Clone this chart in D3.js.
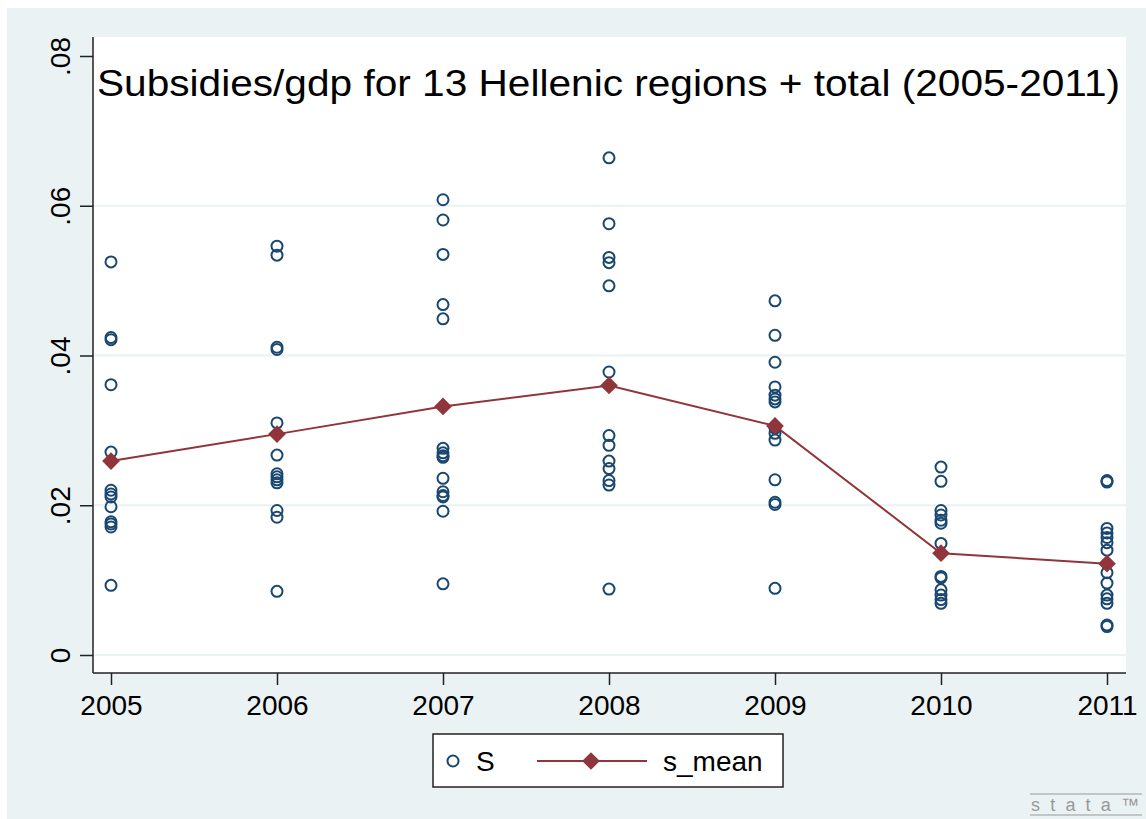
<!DOCTYPE html>
<html>
<head>
<meta charset="utf-8">
<script src="https://cdn.jsdelivr.net/npm/d3@7"></script>
<style>
  body { margin: 0; background: #fff; }
  text { font-family: "Liberation Sans", Arial, sans-serif; }
</style>
</head>
<body>
<script>
// Years on the x axis
const years = [2005, 2006, 2007, 2008, 2009, 2010, 2011];

// S values per year (13 regions + total)
const s2005 = [0.0525, 0.0424, 0.0421, 0.0361, 0.0271, 0.0220, 0.0215, 0.0211, 0.0198, 0.0178, 0.0175, 0.0171, 0.0093];
const s2006 = [0.0546, 0.0534, 0.0411, 0.0408, 0.0310, 0.0267, 0.0242, 0.0238, 0.0234, 0.0230, 0.0193, 0.0184, 0.0085];
const s2007 = [0.0608, 0.0581, 0.0535, 0.0468, 0.0449, 0.0276, 0.0270, 0.0266, 0.0264, 0.0236, 0.0218, 0.0213, 0.0211, 0.0192, 0.0095];
const s2008 = [0.0664, 0.0576, 0.0531, 0.0524, 0.0493, 0.0378, 0.0293, 0.0280, 0.0259, 0.0249, 0.0233, 0.0227, 0.0088];
const s2009 = [0.0473, 0.0427, 0.0391, 0.0358, 0.0347, 0.0342, 0.0338, 0.0303, 0.0296, 0.0287, 0.0234, 0.0204, 0.0201, 0.0089];
const s2010 = [0.0251, 0.0232, 0.0193, 0.0187, 0.0180, 0.0176, 0.0149, 0.0105, 0.0103, 0.0087, 0.0080, 0.0074, 0.0069];
const s2011 = [0.0233, 0.0231, 0.0169, 0.0163, 0.0157, 0.0150, 0.0140, 0.0110, 0.0096, 0.0080, 0.0075, 0.0069, 0.0040, 0.0038];

// s_mean per year
const sMean = [0.0259, 0.0295, 0.0332, 0.0360, 0.0306, 0.0136, 0.0122];

const yTicks = [0, 0.02, 0.04, 0.06, 0.08];
const gridTicks = [0, 0.02, 0.04, 0.06];

const sByYear = [s2005, s2006, s2007, s2008, s2009, s2010, s2011];
const points = [];
sByYear.forEach((vals, i) => vals.forEach(v => points.push({ x: years[i], y: v })));
const meanData = years.map((yr, i) => ({ x: yr, y: sMean[i] }));

const width = 1146;
const height = 819;
const plot = { left: 93, right: 1126, top: 37, bottom: 673 };

const navy = "#1a476f";
const maroon = "#90353b";
const bgColor = "#eaf2f3";
const labelSize = 28;

const svg = d3.select("body")
    .append("svg")
    .attr("width", width)
    .attr("height", height);

// Outer graph region
svg.append("rect")
    .attr("x", 7).attr("y", 8)
    .attr("width", width - 7).attr("height", height - 8)
    .attr("fill", bgColor);

// Plot region
svg.append("rect")
    .attr("x", plot.left).attr("y", plot.top)
    .attr("width", plot.right - plot.left).attr("height", plot.bottom - plot.top)
    .attr("fill", "#fff");

const xScale = d3.scaleLinear()
    .domain([2005, 2011])
    .range([111, 1107]);

const yScale = d3.scaleLinear()
    .domain([0, 0.08])
    .range([655, 56]);

// Gridlines
svg.append("g")
    .selectAll("line")
    .data(gridTicks)
    .enter()
    .append("line")
    .attr("x1", plot.left)
    .attr("x2", plot.right)
    .attr("y1", d => yScale(d))
    .attr("y2", d => yScale(d))
    .attr("stroke", bgColor)
    .attr("stroke-width", 2);

// Title
svg.append("text")
    .attr("x", 97)
    .attr("y", 96)
    .attr("font-size", 37)
    .attr("textLength", 1023)
    .attr("lengthAdjust", "spacingAndGlyphs")
    .attr("fill", "#000")
    .text("Subsidies/gdp for 13 Hellenic regions + total (2005-2011)");

// Y axis
const yAxis = d3.axisLeft(yScale)
    .tickValues(yTicks)
    .tickSize(13)
    .tickSizeOuter(0)
    .tickFormat(d => d === 0 ? "0" : d3.format(".2f")(d).replace(/^0/, ""));

const yAxisGroup = svg.append("g")
    .attr("transform", `translate(${plot.left},0)`)
    .call(yAxis);
yAxisGroup.select(".domain").remove();
yAxisGroup.selectAll("line").attr("stroke", "#222").attr("stroke-width", 1.5);
yAxisGroup.selectAll("text")
    .attr("x", 0).attr("y", 0).attr("dy", 0)
    .attr("transform", "translate(-23,0) rotate(-90)")
    .attr("text-anchor", "middle")
    .attr("font-size", labelSize)
    .attr("font-family", "Liberation Sans, Arial, sans-serif")
    .attr("fill", "#000");

// X axis
const xAxis = d3.axisBottom(xScale)
    .tickValues(years)
    .tickSize(12)
    .tickSizeOuter(0)
    .tickFormat(d3.format("d"));

const xAxisGroup = svg.append("g")
    .attr("transform", `translate(0,${plot.bottom})`)
    .call(xAxis);
xAxisGroup.select(".domain").remove();
xAxisGroup.selectAll("line").attr("stroke", "#222").attr("stroke-width", 1.5);
xAxisGroup.selectAll("text")
    .attr("y", 42).attr("dy", 0)
    .attr("font-size", labelSize)
    .attr("font-family", "Liberation Sans, Arial, sans-serif")
    .attr("fill", "#000");

// Axis lines
svg.append("line")
    .attr("x1", plot.left).attr("x2", plot.left)
    .attr("y1", plot.top).attr("y2", plot.bottom)
    .attr("stroke", "#222").attr("stroke-width", 1.5);
svg.append("line")
    .attr("x1", plot.left).attr("x2", plot.right)
    .attr("y1", plot.bottom).attr("y2", plot.bottom)
    .attr("stroke", "#222").attr("stroke-width", 1.5);

// S scatter
svg.append("g")
    .selectAll("circle")
    .data(points)
    .enter()
    .append("circle")
    .attr("cx", d => xScale(d.x))
    .attr("cy", d => yScale(d.y))
    .attr("r", 5.5)
    .attr("fill", "none")
    .attr("stroke", navy)
    .attr("stroke-width", 2);

// s_mean line
const line = d3.line()
    .x(d => xScale(d.x))
    .y(d => yScale(d.y));

svg.append("path")
    .datum(meanData)
    .attr("d", line)
    .attr("fill", "none")
    .attr("stroke", maroon)
    .attr("stroke-width", 2);

const diamond = d3.symbol().type(d3.symbolDiamond2).size(200);

svg.append("g")
    .selectAll("path")
    .data(meanData)
    .enter()
    .append("path")
    .attr("d", diamond)
    .attr("transform", d => `translate(${xScale(d.x)},${yScale(d.y)})`)
    .attr("fill", maroon);

// Legend
const legend = svg.append("g");
legend.append("rect")
    .attr("x", 433).attr("y", 734)
    .attr("width", 350).attr("height", 53)
    .attr("fill", "#fff")
    .attr("stroke", "#222")
    .attr("stroke-width", 1.5);
legend.append("circle")
    .attr("cx", 453).attr("cy", 761)
    .attr("r", 5.5)
    .attr("fill", "none")
    .attr("stroke", navy)
    .attr("stroke-width", 2);
legend.append("text")
    .attr("x", 476).attr("y", 771)
    .attr("font-size", labelSize)
    .text("S");
legend.append("line")
    .attr("x1", 537).attr("x2", 647)
    .attr("y1", 761).attr("y2", 761)
    .attr("stroke", maroon)
    .attr("stroke-width", 2);
legend.append("path")
    .attr("d", diamond)
    .attr("transform", "translate(591,761)")
    .attr("fill", maroon);
legend.append("text")
    .attr("x", 663).attr("y", 771)
    .attr("font-size", labelSize)
    .text("s_mean");

// Stata mark
const mark = svg.append("g");
mark.append("line")
    .attr("x1", 1030).attr("x2", 1142)
    .attr("y1", 794).attr("y2", 794)
    .attr("stroke", "#999").attr("stroke-width", 1);
mark.append("line")
    .attr("x1", 1030).attr("x2", 1142)
    .attr("y1", 815).attr("y2", 815)
    .attr("stroke", "#999").attr("stroke-width", 1);
mark.append("text")
    .attr("x", 1031).attr("y", 811)
    .attr("font-size", 18)
    .attr("textLength", 108)
    .attr("lengthAdjust", "spacing")
    .attr("fill", "#999")
    .text("stata\u2122");
</script>
</body>
</html>
